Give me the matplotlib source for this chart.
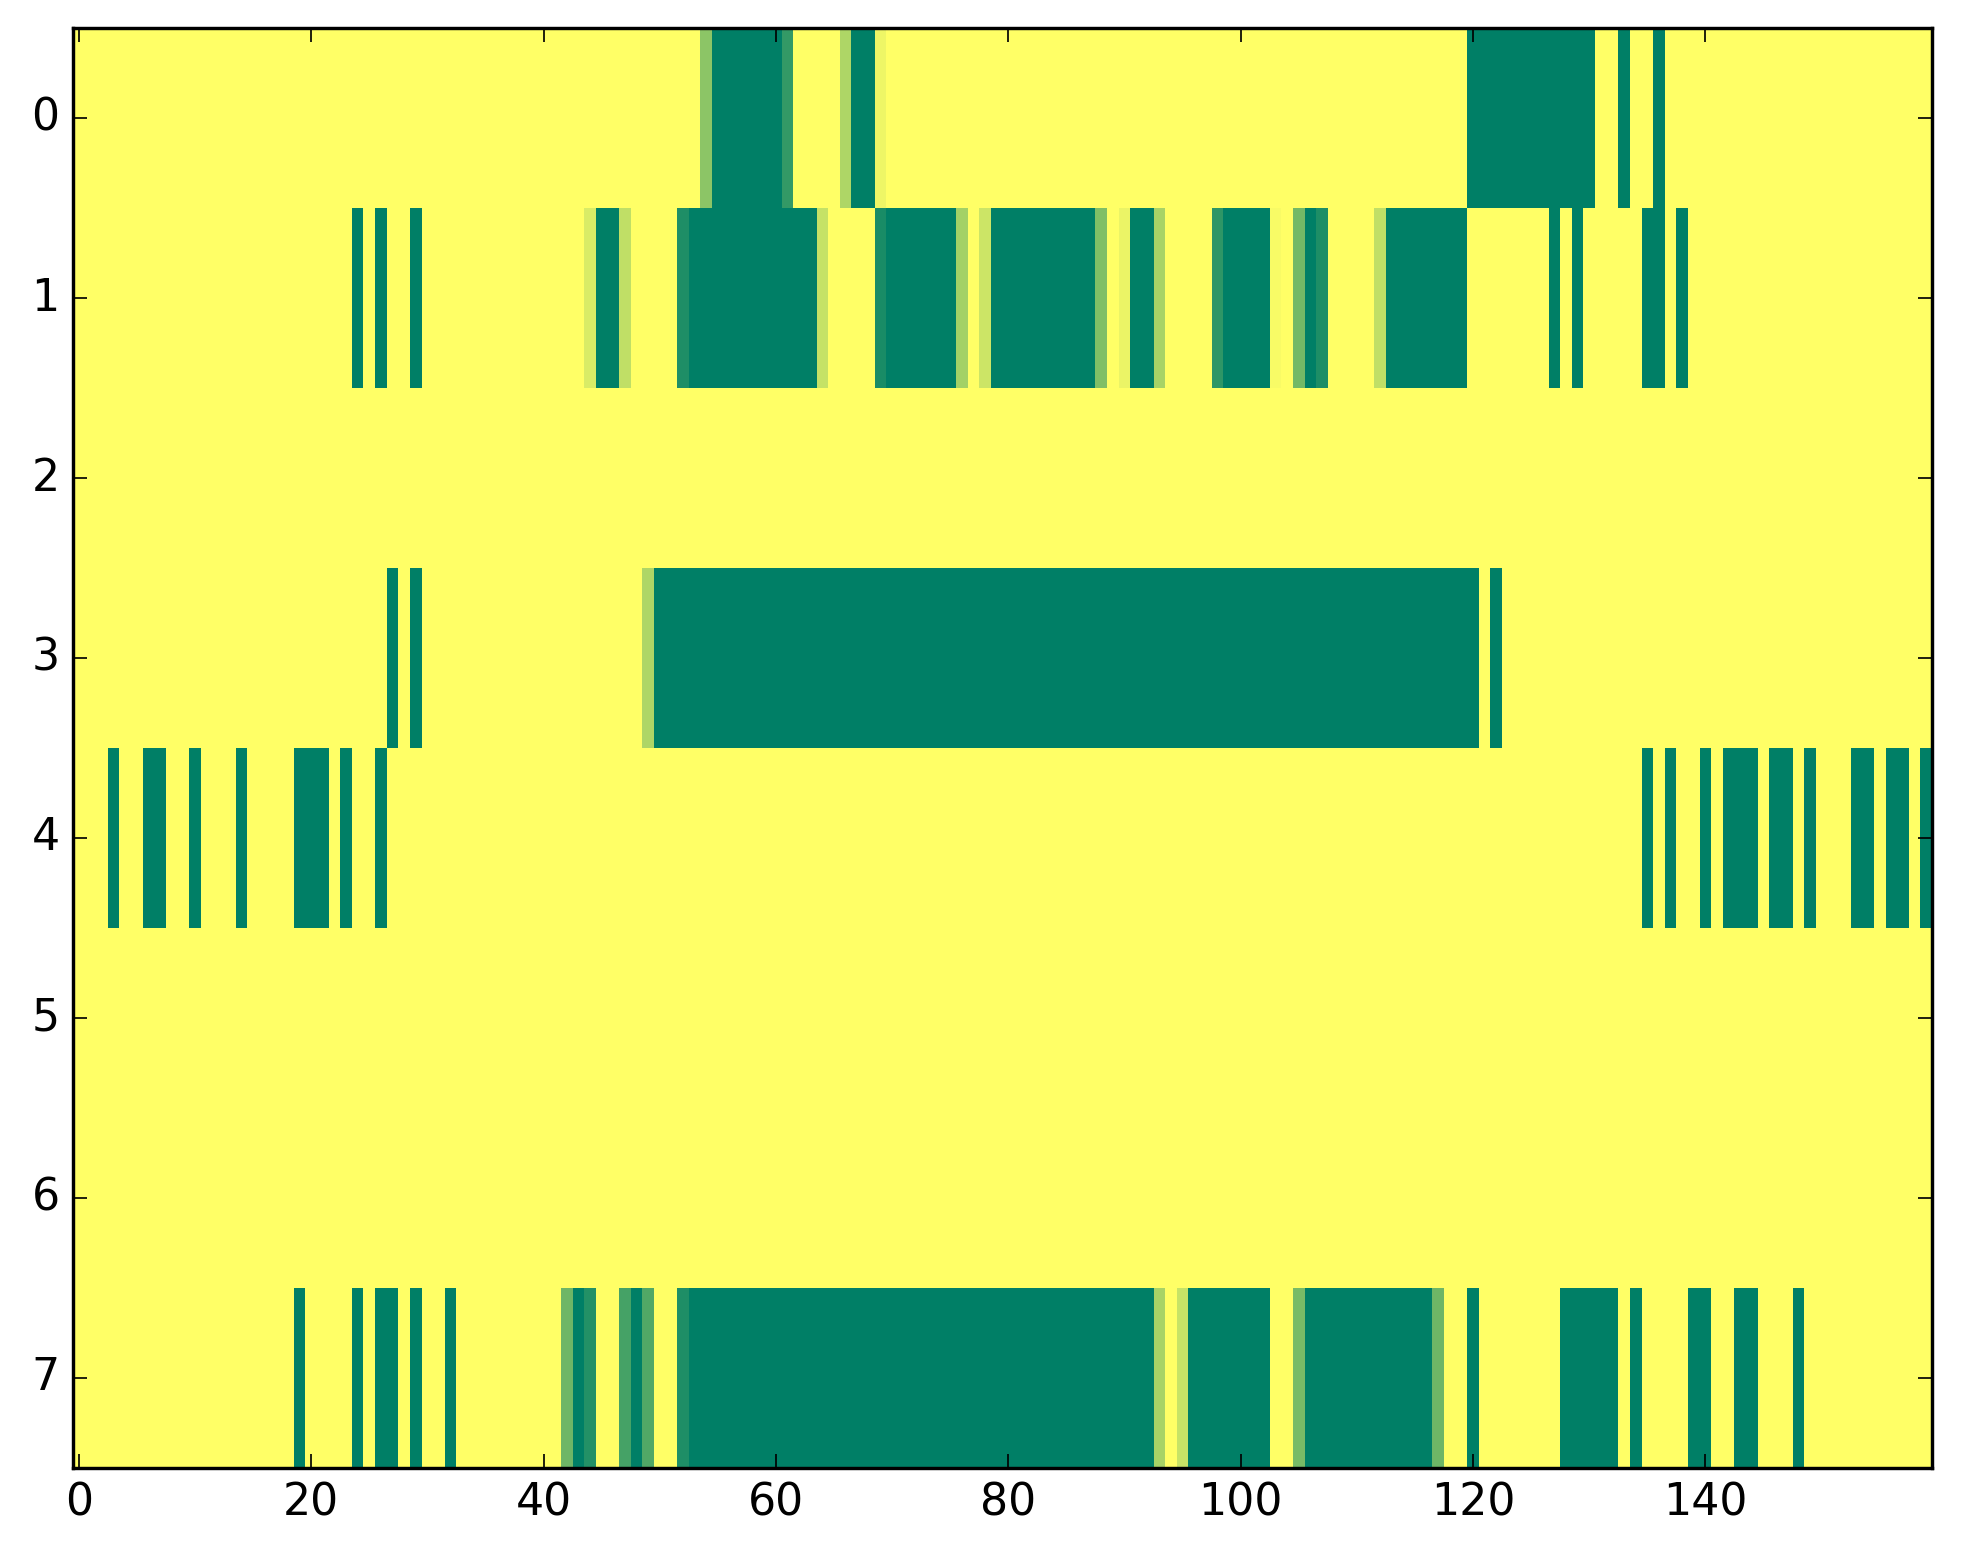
import numpy as np
import matplotlib
matplotlib.use("Agg")
import matplotlib.pyplot as plt

plt.style.use("classic")

n_rows = 8
n_cols = 160

# Dark (value 0) runs per row, as inclusive (start, end) column ranges
dark_runs = {
    0: [(55, 60), (67, 68), (120, 130), (133, 133), (136, 136)],
    1: [(24, 24), (26, 26), (29, 29), (45, 46), (53, 63), (70, 75), (79, 87),
        (91, 92), (99, 102), (106, 106), (113, 119), (127, 127), (129, 129),
        (135, 136), (138, 138)],
    2: [],
    3: [(27, 27), (29, 29), (50, 120), (122, 122)],
    4: [(3, 3), (6, 7), (10, 10), (14, 14), (19, 21), (23, 23), (26, 26),
        (135, 135), (137, 137), (140, 140), (142, 144), (146, 147), (149, 149),
        (153, 154), (156, 157), (159, 159)],
    5: [],
    6: [],
    7: [(19, 19), (24, 24), (26, 27), (29, 29), (32, 32), (43, 43), (48, 48),
        (53, 92), (96, 102), (106, 116), (120, 120), (128, 132), (134, 134),
        (139, 140), (143, 144), (148, 148)],
}

# Intermediate values per row {column: value}
partial_vals = {
    0: {54: 0.55, 61: 0.20, 66: 0.68, 69: 0.93},
    1: {44: 0.85, 47: 0.75, 52: 0.12, 64: 0.77, 69: 0.10, 76: 0.64, 78: 0.80,
        88: 0.50, 90: 0.92, 93: 0.66, 98: 0.18, 103: 0.97, 105: 0.45,
        107: 0.12, 112: 0.75},
    3: {49: 0.68},
    7: {42: 0.43, 44: 0.14, 47: 0.27, 49: 0.32, 52: 0.12, 93: 0.66, 95: 0.78,
        105: 0.47, 117: 0.43},
}

data = np.ones((n_rows, n_cols))
for r, runs in dark_runs.items():
    for a, b in runs:
        data[r, a:b + 1] = 0.0
for r, vals in partial_vals.items():
    for c, v in vals.items():
        data[r, c] = v

fig = plt.figure(figsize=(1963 / 245, 1564 / 245), dpi=245, facecolor="white")
ax = fig.add_axes([0.0373, 0.0615, 0.9469, 0.9205])
ax.imshow(data, cmap="summer", aspect="auto", interpolation="nearest",
          vmin=0, vmax=1)
ax.set_xticks([0, 20, 40, 60, 80, 100, 120, 140])
ax.set_yticks(range(8))
ax.tick_params(labelsize=13)
fig.savefig("out.png", dpi=245, facecolor="white")
